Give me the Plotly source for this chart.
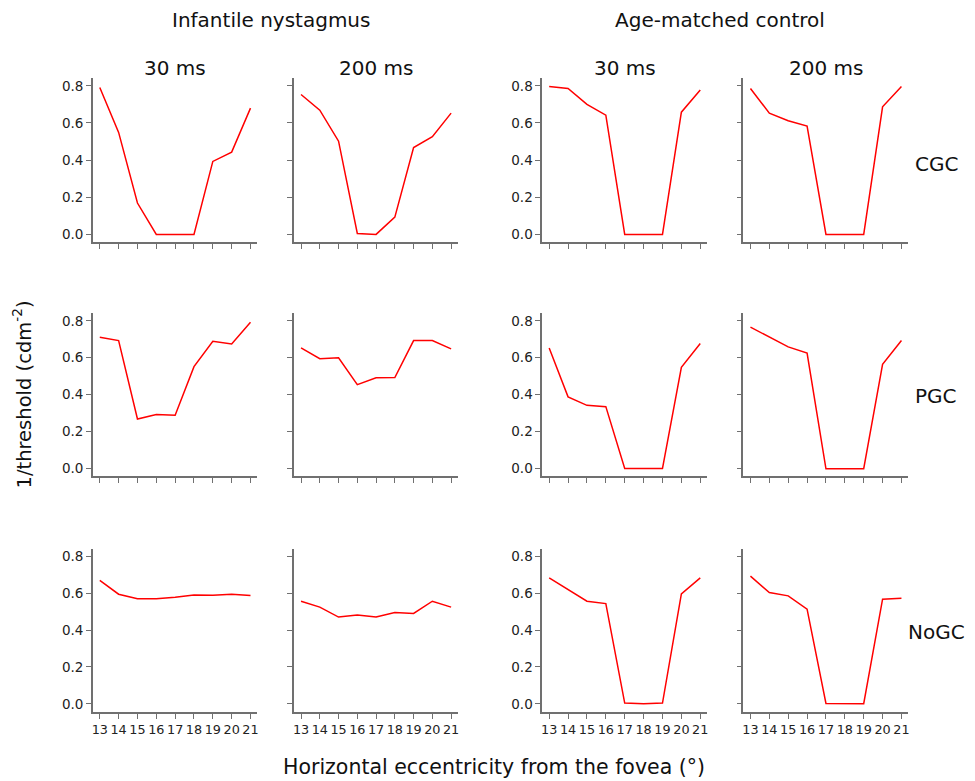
import plotly.graph_objects as go
from plotly.subplots import make_subplots

eccentricity = [13, 14, 15, 16, 17, 18, 19, 20, 21]
groups = ["Infantile nystagmus", "Age-matched control"]
durations = ["30 ms", "200 ms"]
conditions = ["CGC", "PGC", "NoGC"]
y_ticks = [0.0, 0.2, 0.4, 0.6, 0.8]

# Infantile nystagmus
in_30_cgc = [0.791, 0.549, 0.169, 0.0, 0.0, 0.0, 0.393, 0.443, 0.680]
in_200_cgc = [0.753, 0.669, 0.502, 0.005, 0.0, 0.093, 0.468, 0.526, 0.653]
in_30_pgc = [0.711, 0.693, 0.268, 0.293, 0.288, 0.552, 0.689, 0.675, 0.793]
in_200_pgc = [0.654, 0.595, 0.600, 0.454, 0.491, 0.493, 0.693, 0.693, 0.648]
in_30_nogc = [0.669, 0.594, 0.569, 0.569, 0.578, 0.590, 0.588, 0.594, 0.587]
in_200_nogc = [0.556, 0.524, 0.470, 0.481, 0.470, 0.495, 0.490, 0.556, 0.524]

# Age-matched control
ac_30_cgc = [0.796, 0.786, 0.700, 0.642, 0.0, 0.0, 0.0, 0.658, 0.777]
ac_200_cgc = [0.786, 0.653, 0.612, 0.583, 0.0, 0.0, 0.0, 0.687, 0.796]
ac_30_pgc = [0.653, 0.388, 0.342, 0.335, 0.0, 0.0, 0.0, 0.548, 0.677]
ac_200_pgc = [0.766, 0.712, 0.659, 0.625, -0.002, -0.001, -0.001, 0.564, 0.694]
ac_30_nogc = [0.683, 0.621, 0.556, 0.543, 0.004, 0.0, 0.004, 0.596, 0.682]
ac_200_nogc = [0.692, 0.603, 0.585, 0.513, 0.002, 0.001, 0.001, 0.567, 0.572]

grid = [
    [in_30_cgc, in_200_cgc, ac_30_cgc, ac_200_cgc],
    [in_30_pgc, in_200_pgc, ac_30_pgc, ac_200_pgc],
    [in_30_nogc, in_200_nogc, ac_30_nogc, ac_200_nogc],
]

W, H = 975, 781
FONT = "DejaVu Sans"
col_px = [(92, 257), (293.7, 458), (542.3, 707.7), (744, 909.3)]
row_px = [(77.3, 241.7), (312.7, 476), (548.3, 711.7)]

fig = make_subplots(rows=3, cols=4)

for r in range(3):
    for c in range(4):
        fig.add_trace(
            go.Scatter(x=eccentricity, y=grid[r][c], mode="lines",
                       line=dict(color="#ff0000", width=1.5),
                       showlegend=False, hoverinfo="x+y"),
            row=r + 1, col=c + 1)
        idx = r * 4 + c + 1
        xa = "xaxis" if idx == 1 else f"xaxis{idx}"
        ya = "yaxis" if idx == 1 else f"yaxis{idx}"
        x0, x1 = col_px[c]
        y0, y1 = row_px[r]
        fig.layout[xa].update(
            domain=[x0 / W, x1 / W], range=[12.63, 21.37],
            tickmode="array", tickvals=eccentricity,
            ticktext=[str(v) for v in eccentricity],
            showticklabels=(r == 2), tickangle=0,
            ticks="outside", ticklen=5, tickwidth=1.2, tickcolor="#707070",
            showline=True, linecolor="#707070", linewidth=1.5,
            showgrid=False, zeroline=False,
            tickfont=dict(family=FONT, size=12.8, color="#222222"))
        fig.layout[ya].update(
            domain=[1 - y1 / H, 1 - y0 / H], range=[-0.043, 0.841],
            tickmode="array", tickvals=y_ticks,
            ticktext=[f"{v:.1f}" for v in y_ticks],
            showticklabels=(c in (0, 2)),
            ticks="outside", ticklen=5, tickwidth=1.2, tickcolor="#707070",
            showline=True, linecolor="#707070", linewidth=1.5,
            showgrid=False, zeroline=False,
            tickfont=dict(family=FONT, size=13.5, color="#222222"))

ann = []
def add_text(text, x, y, size, angle=0):
    ann.append(dict(text=text, x=x / W, y=1 - y / H, xref="paper", yref="paper",
                    showarrow=False, xanchor="center", yanchor="middle",
                    textangle=angle,
                    font=dict(family=FONT, size=size, color="#111111")))

add_text(groups[0], 271, 19, 20)
add_text(groups[1], 720, 19, 20)
for c in range(4):
    add_text(durations[c % 2], (col_px[c][0] + col_px[c][1]) / 2, 67, 20)
for r, lab in enumerate(conditions):
    add_text(lab, 937, [163, 396, 632][r], 20)
add_text("1/threshold (cdm<sup>-2</sup>)", 22, 394, 19.5, angle=-90)
add_text("Horizontal eccentricity from the fovea (°)", 494, 767, 20.5)

fig.update_layout(width=W, height=H, margin=dict(l=0, r=0, t=0, b=0),
                  paper_bgcolor="white", plot_bgcolor="white",
                  annotations=ann, font=dict(family=FONT))

fig.write_html("out.html", config={"displayModeBar": False},
               post_script="document.body.style.margin='0';document.body.style.overflow='hidden';")
